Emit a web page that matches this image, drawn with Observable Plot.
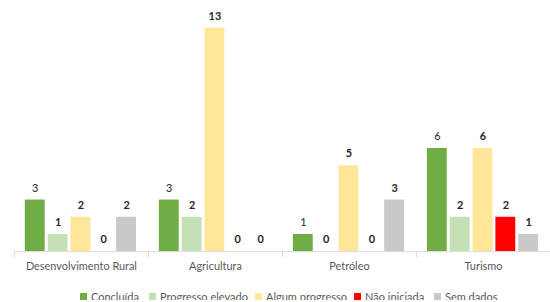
<!DOCTYPE html>
<html>
<head>
<meta charset="utf-8">
<script src="https://cdn.jsdelivr.net/npm/d3@7"></script>
<script src="https://cdn.jsdelivr.net/npm/@observablehq/plot@0.6"></script>
<style>
  html, body { margin: 0; padding: 0; background: #fff; overflow: hidden; }
  #chart { width: 550px; font-family: Lato, "Open Sans", sans-serif; }
  .legend { position: relative; height: 17px; width: 550px; font-family: Lato, sans-serif; font-size: 11px; color: #595959; }
  .legend .item { position: absolute; top: 7px; display: flex; align-items: center; white-space: nowrap; }
  .legend .sw { width: 7px; height: 7px; margin-right: 4px; }
</style>
</head>
<body>
<div id="chart"></div>
<script>
const categories = ["Desenvolvimento Rural", "Agricultura", "Petróleo", "Turismo"];
const statuses = ["Concluída", "Progresso elevado", "Algum progresso", "Não iniciada", "Sem dados"];
const colors = ["#70AD47", "#C5E0B4", "#FFE699", "#FF0000", "#C9C9C9"];
const concluida = [3, 3, 1, 6];
const progressoElevado = [1, 2, 0, 2];
const algumProgresso = [2, 13, 5, 6];
const naoIniciada = [0, 0, 0, 2];
const semDados = [2, 0, 3, 1];
const legendX = [80, 149, 255, 354, 434];

const series = [concluida, progressoElevado, algumProgresso, naoIniciada, semDados];
const data = [];
categories.forEach((c, i) => statuses.forEach((s, j) => data.push({category: c, status: s, value: series[j][i]})));

const height = 285, marginBottom = 32, marginTop = 27.7;
const plot = Plot.plot({
  width: 554,
  height,
  marginLeft: 14,
  marginRight: 0,
  marginTop,
  marginBottom,
  style: {fontFamily: "Lato, sans-serif", background: "#fff"},
  fx: {domain: categories, paddingInner: 0, paddingOuter: 0, label: null},
  x: {domain: statuses, paddingInner: 0.11, paddingOuter: 0.45, axis: null},
  y: {domain: [0, 13], axis: null},
  color: {domain: statuses, range: colors},
  marks: [
    Plot.barY(data, {fx: "category", x: "status", y: "value", fill: "status"}),
    Plot.ruleY([0], {stroke: "#D9D9D9", strokeWidth: 1}),
    Plot.frame({anchor: "left", stroke: "#D9D9D9", insetTop: height - marginTop - marginBottom, insetBottom: -5}),
    Plot.text(data.filter(d => d.status === "Concluída"), {fx: "category", x: "status", y: "value", text: "value", dy: -12, fontSize: 11, fill: "#262626"}),
    Plot.text(data.filter(d => d.status !== "Concluída"), {fx: "category", x: "status", y: "value", text: "value", dy: -12, fontSize: 11, fontWeight: "bold", fill: "#262626"}),
    Plot.axisFx({anchor: "bottom", tickSize: 0, tickPadding: 11, fontSize: 11, color: "#595959", label: null})
  ]
});
document.getElementById("chart").appendChild(plot);

const legend = document.createElement("div");
legend.className = "legend";
statuses.forEach((s, i) => {
  const item = document.createElement("div");
  item.className = "item";
  item.style.left = legendX[i] + "px";
  const sw = document.createElement("span");
  sw.className = "sw";
  sw.style.background = colors[i];
  const t = document.createElement("span");
  t.textContent = s;
  item.appendChild(sw);
  item.appendChild(t);
  legend.appendChild(item);
});
document.getElementById("chart").appendChild(legend);
</script>
</body>
</html>
